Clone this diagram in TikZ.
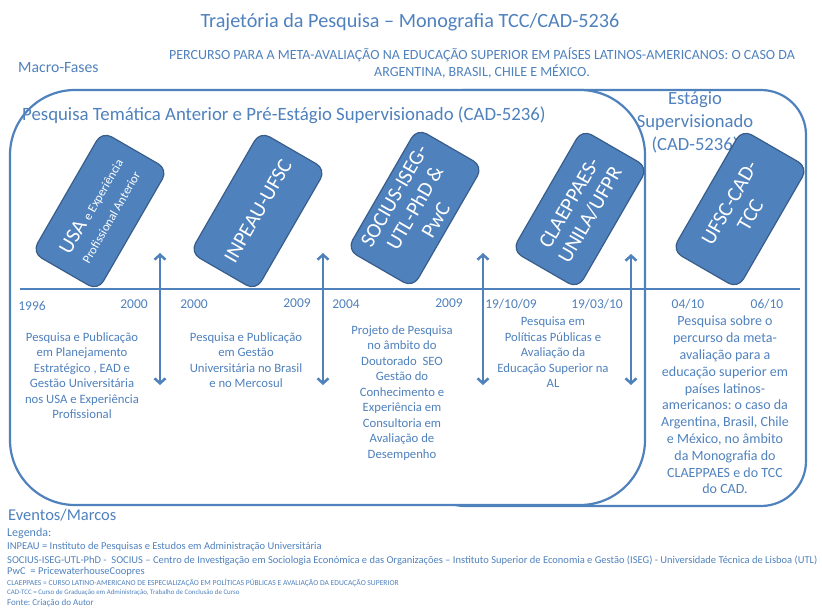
\documentclass[tikz,border=0pt]{standalone}
\usepackage{fontspec}
\setmainfont{Carlito}
\usetikzlibrary{arrows.meta}
\definecolor{fase}{HTML}{4F81BD}
\definecolor{borda}{HTML}{385D8A}
\frenchspacing

\begin{document}
\begin{tikzpicture}[x=1pt, y=-1pt,
        every node/.append style={text=fase, inner sep=0pt},
        marco/.style={draw=borda, line width=1.2pt, fill=fase, text=white,
            rounded corners=11pt, rotate=60, minimum width=140pt,
            minimum height=76pt, align=center,
            font=\fontsize{21}{24}\selectfont},
        data/.style={anchor=base, font=\fontsize{13.5}{14}\selectfont},
        desc/.style={anchor=north, align=center, font=\fontsize{12.7}{15.5}\selectfont},
        legenda/.style={anchor=west, font=\fontsize{10.5}{11}\selectfont},
        fundo/.style={draw=fase, line width=2.2pt},
        seta/.style={draw=fase, line width=2.5pt,
            {Straight Barb[length=5pt,width=11pt]}-{Straight Barb[length=5pt,width=11pt]}}
    ]
        \useasboundingbox (0,0) rectangle (822,608);
        % fases
        \draw[fundo, rounded corners=45pt] (420,90) rectangle (806,506);
        \draw[fundo, fill=white, rounded corners=65pt] (10,90) rectangle (645,505);

        \node (T) at (410,22) {\fontsize{20.2}{24}\selectfont Trajetória da Pesquisa – Monografia TCC/CAD-5236};
        \node[align=center, font=\fontsize{14}{17}\selectfont] (S) at (482,63)
            {PERCURSO PARA A META-AVALIAÇÃO NA EDUCAÇÃO SUPERIOR EM PAÍSES LATINOS-AMERICANOS: O CASO DA\\
             ARGENTINA, BRASIL, CHILE E MÉXICO.};
        \node[anchor=west, font=\fontsize{15.7}{17}\selectfont] (MF) at (18,68) {Macro-Fases};
        \node[anchor=west, font=\fontsize{18.8}{20}\selectfont] (F1) at (22,115)
            {Pesquisa Temática Anterior e Pré-Estágio Supervisionado (CAD-5236)};
        \node[align=center, font=\fontsize{18.6}{23}\selectfont] (F2) at (695,122)
            {Estágio\\Supervisionado\\(CAD-5236)};

        % eventos
        \node[marco] (A) at (100,211)
            {USA {\fontsize{12.5}{13}\selectfont e Experiência}\\[-3pt]
             {\fontsize{12.5}{13}\selectfont Profissional Anterior}};
        \node[marco] (B) at (258,211) {INPEAU-UFSC};
        \node[marco] (C) at (415,208) {SOCIUS-ISEG-\\UTL-PhD \&\\PwC};
        \node[marco] (D) at (580,209) {CLAEPPAES-\\UNILA/UFPR};
        \node[marco] (E) at (740,209) {UFSC-CAD-\\TCC};

        % linha do tempo
        \coordinate (t0) at (20,289);
        \coordinate (t1) at (800,289);
        \draw[fase, line width=2.5pt] (t0) -- (t1);

        \coordinate (s1a) at (160,253);
        \coordinate (s1b) at (160,385);
        \coordinate (s2a) at (323,253);
        \coordinate (s2b) at (323,385);
        \coordinate (s3a) at (483,253);
        \coordinate (s3b) at (483,385);
        \coordinate (s4a) at (631,254);
        \coordinate (s4b) at (631,385);
        \draw[seta] (s1a) -- (s1b);
        \draw[seta] (s2a) -- (s2b);
        \draw[seta] (s3a) -- (s3b);
        \draw[seta] (s4a) -- (s4b);

        \node[data] (d1) at (32,310) {1996};
        \node[data] (d2) at (134,308) {2000};
        \node[data] (d3) at (194,308) {2000};
        \node[data] (d4) at (297,307) {2009};
        \node[data] (d5) at (346,308) {2004};
        \node[data] (d6) at (449,307) {2009};
        \node[data] (d7) at (511,308) {19/10/09};
        \node[data] (d8) at (597,308) {19/03/10};
        \node[data] (d9) at (688,308) {04/10};
        \node[data] (d10) at (767,308) {06/10};

        \node[desc] (P1) at (82,332)
            {Pesquisa e Publicação\\em Planejamento\\Estratégico , EAD e\\Gestão Universitária\\nos USA e Experiência\\Profissional};
        \node[desc] (P2) at (246,332)
            {Pesquisa e Publicação\\em Gestão\\Universitária no Brasil\\e no Mercosul};
        \node[desc] (P3) at (402,325)
            {Projeto de Pesquisa\\no âmbito do\\Doutorado\ \ SEO\\Gestão do\\Conhecimento e\\Experiência em\\Consultoria em\\Avaliação de\\Desempenho};
        \node[desc] (P4) at (553,317)
            {Pesquisa em\\Políticas Públicas e\\Avaliação da\\Educação Superior na\\AL};
        \node[desc, font=\fontsize{14}{16.8}\selectfont] (P5) at (725,316)
            {Pesquisa sobre o\\percurso da meta-\\avaliação para a\\educação superior em\\países latinos-\\americanos: o caso da\\Argentina, Brasil, Chile\\e México, no âmbito\\da Monografia do\\CLAEPPAES e do TCC\\do CAD.};

        % legenda
        \node[anchor=west, font=\fontsize{16.5}{18}\selectfont] (EM) at (8,515) {Eventos/Marcos};
        \node[anchor=west, font=\fontsize{12}{14}\selectfont] (L0) at (7,533) {Legenda:};
        \node[legenda] (L1) at (7,547) {INPEAU = Instituto de Pesquisas e Estudos em Administração Universitária};
        \node[legenda] (L2) at (7,561) {SOCIUS-ISEG-UTL-PhD -\ \ SOCIUS – Centro de Investigação em Sociologia Económica e das Organizações – Instituto Superior de Economia e Gestão (ISEG) - Universidade Técnica de Lisboa (UTL)};
        \node[legenda] (L3) at (7,572) {PwC\ \ = PricewaterhouseCoopres};
        \node[legenda, font=\fontsize{7.6}{8}\selectfont] (L4) at (7,583) {CLAEPPAES = CURSO LATINO-AMERICANO DE ESPECIALIZAÇÃO EM POLÍTICAS PÚBLICAS E AVALIAÇÃO DA EDUCAÇÃO SUPERIOR};
        \node[legenda, font=\fontsize{6.9}{8}\selectfont] (L5) at (7,593) {CAD-TCC = Curso de Graduação em Administração, Trabalho de Conclusão de Curso};
        \node[legenda, font=\fontsize{9}{10}\selectfont] (L6) at (7,603) {Fonte: Criação do Autor};
    \end{tikzpicture}
\end{document}
